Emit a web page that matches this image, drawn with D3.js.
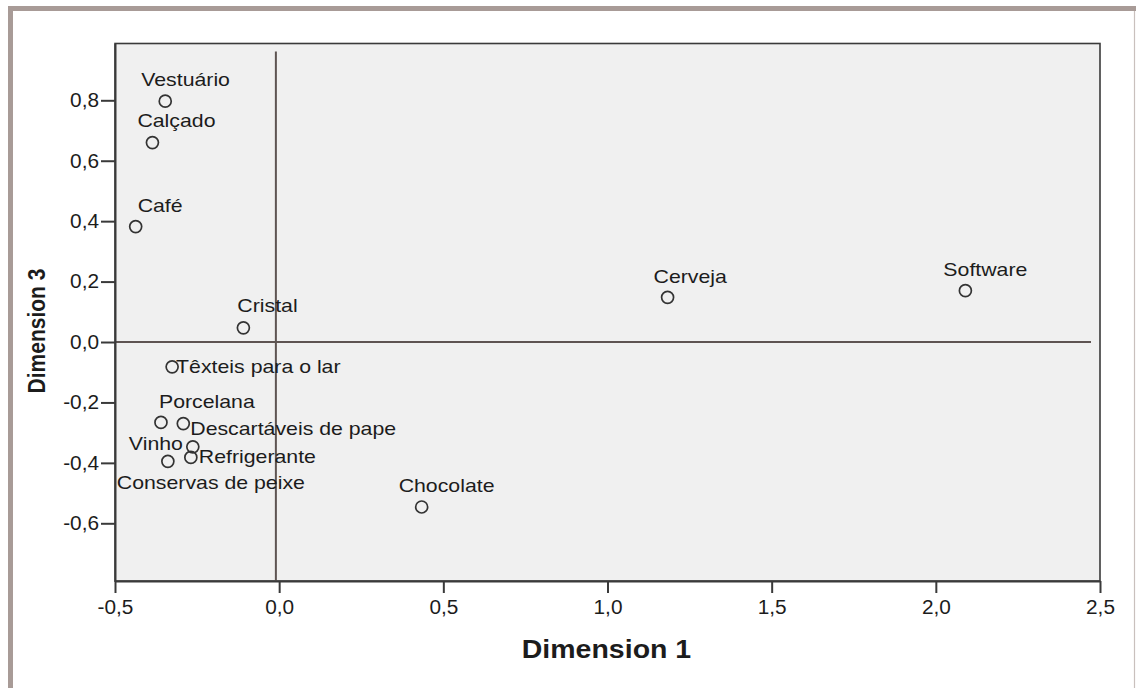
<!DOCTYPE html>
<html>
<head>
<meta charset="utf-8">
<script src="https://cdn.jsdelivr.net/npm/d3@7"></script>
<style>
  html, body { margin: 0; padding: 0; background: #ffffff; }
  svg { display: block; }
  text { font-family: "Liberation Sans", Arial, sans-serif; fill: #1c1c1c; }
</style>
</head>
<body>
<svg id="chart" width="1138" height="688"></svg>
<script>
// Category labels and their coordinates on dimensions 1 and 3
const categories = [
  "Vestuário", "Calçado", "Café", "Cristal", "Têxteis para o lar",
  "Porcelana", "Descartáveis de pape", "Vinho", "Refrigerante",
  "Conservas de peixe", "Chocolate", "Cerveja", "Software"
];
const dim1 = [-0.347, -0.386, -0.437, -0.109, -0.326, -0.360, -0.292, -0.339, -0.269, -0.263, 0.434, 1.183, 2.090];
const dim3 = [0.797, 0.660, 0.382, 0.047, -0.082, -0.266, -0.270, -0.395, -0.382, -0.347, -0.546, 0.148, 0.170];

// Axis ticks
const xTicks = [-0.5, 0, 0.5, 1, 1.5, 2, 2.5];
const xTickLabels = ["-0,5", "0,0", "0,5", "1,0", "1,5", "2,0", "2,5"];
const yTicks = [-0.6, -0.4, -0.2, 0, 0.2, 0.4, 0.6, 0.8];
const yTickLabels = ["-0,6", "-0,4", "-0,2", "0,0", "0,2", "0,4", "0,6", "0,8"];

// Label placement relative to each marker, in pixels [dx, dy of baseline]
const labelNudge = [
  [-24, -15], [-15, -16], [2, -15], [-6, -16], [4, 6.5],
  [-2, -14], [7, 11.5], [-39, -11], [8, 6], [-76, 42],
  [-23, -15], [-14, -14], [-22, -15]
];

const svg = d3.select("#chart");
const W = 1138, H = 688;
const plot = { left: 115, right: 1100, top: 43.5, bottom: 581 };

const x = d3.scaleLinear().domain([-0.5, 2.5]).range([plot.left, plot.right]);
const y = d3.scaleLinear().domain([0.988, -0.791]).range([plot.top, plot.bottom]);

// Outer frame
svg.append("line").attr("x1", 8).attr("x2", 1136).attr("y1", 8.5).attr("y2", 8.5)
  .attr("stroke", "#a89b97").attr("stroke-width", 5);
svg.append("line").attr("x1", 10.5).attr("x2", 10.5).attr("y1", 6).attr("y2", H)
  .attr("stroke", "#a89b97").attr("stroke-width", 5);
svg.append("line").attr("x1", 1134.5).attr("x2", 1134.5).attr("y1", 11).attr("y2", H)
  .attr("stroke", "#c9c0bd").attr("stroke-width", 1.2);

// Plot background
svg.append("rect")
  .attr("x", plot.left).attr("y", plot.top)
  .attr("width", plot.right - plot.left).attr("height", plot.bottom - plot.top)
  .attr("fill", "#f0f0f0").attr("stroke", "#3a3a3a").attr("stroke-width", 1.6);

// Reference lines through the origin
svg.append("line")
  .attr("x1", plot.left).attr("x2", plot.right - 9)
  .attr("y1", y(0)).attr("y2", y(0))
  .attr("stroke", "#5e5452").attr("stroke-width", 2);
svg.append("line")
  .attr("x1", x(-0.01)).attr("x2", x(-0.01))
  .attr("y1", plot.top + 8).attr("y2", plot.bottom)
  .attr("stroke", "#5e5452").attr("stroke-width", 2);

// Axes
const xAxis = d3.axisBottom(x).tickValues(xTicks)
  .tickFormat((d, i) => xTickLabels[i]).tickSize(12).tickSizeOuter(0).tickPadding(7);
const yAxis = d3.axisLeft(y).tickValues(yTicks)
  .tickFormat((d, i) => yTickLabels[i]).tickSize(14).tickSizeOuter(0).tickPadding(2);

const gx = svg.append("g").attr("transform", `translate(0,${plot.bottom})`).call(xAxis);
const gy = svg.append("g").attr("transform", `translate(${plot.left},0)`).call(yAxis);
[gx, gy].forEach(g => {
  g.select(".domain").attr("stroke", "#3a3a3a").attr("stroke-width", 2);
  g.selectAll(".tick line").attr("stroke", "#3a3a3a").attr("stroke-width", 2);
  g.selectAll(".tick text").attr("fill", "#1c1c1c").style("font-size", "20px")
    .style("font-family", "'Liberation Sans', Arial, sans-serif").classed("stretch-s", true);
});

// Markers and labels
const pts = categories.map((c, i) => ({ name: c, d1: dim1[i], d3: dim3[i], nudge: labelNudge[i] }));

svg.append("g").selectAll("circle").data(pts).join("circle")
  .attr("cx", d => x(d.d1)).attr("cy", d => y(d.d3)).attr("r", 6)
  .attr("fill", "none").attr("stroke", "#333").attr("stroke-width", 1.7);

svg.append("g").selectAll("text").data(pts).join("text")
  .attr("x", d => x(d.d1) + d.nudge[0])
  .attr("y", d => y(d.d3) + d.nudge[1])
  .style("font-size", "19px")
  .classed("stretch", true)
  .text(d => d.name);

// Axis titles
svg.append("text")
  .attr("x", (plot.left + plot.right) / 2 - 1).attr("y", 658)
  .attr("text-anchor", "middle")
  .style("font-size", "25px").style("font-weight", "bold")
  .classed("stretch-l", true)
  .text("Dimension 1");

svg.append("text")
  .attr("transform", "translate(45,331) scale(1.18,1) rotate(-90)")
  .attr("text-anchor", "middle")
  .style("font-size", "21px").style("font-weight", "bold")
  .text("Dimension 3");

// Widen horizontal text slightly
const widen = (sel, k) => sel.each(function () {
  const len = this.getComputedTextLength();
  d3.select(this).attr("textLength", len * k).attr("lengthAdjust", "spacingAndGlyphs");
});
widen(svg.selectAll("text.stretch"), 1.12);
widen(svg.selectAll("text.stretch-s"), 1.04);
widen(svg.selectAll("text.stretch-l"), 1.14);
</script>
</body>
</html>
